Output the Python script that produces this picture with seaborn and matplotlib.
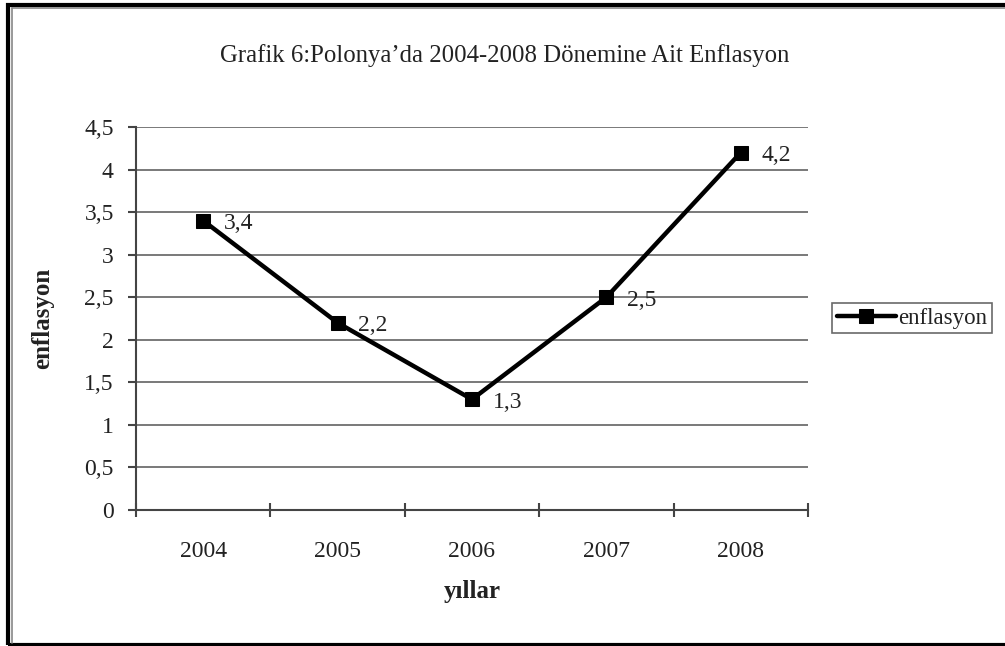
"""Polonya enflasyon 2004-2008 line chart, Excel-style."""
import matplotlib
matplotlib.use("Agg")
import matplotlib.pyplot as plt
import seaborn as sns
import pandas as pd
from matplotlib.patches import Rectangle
from matplotlib.lines import Line2D
from matplotlib.ticker import FuncFormatter, MultipleLocator

years = [2004, 2005, 2006, 2007, 2008]
enflasyon = [3.4, 2.2, 1.3, 2.5, 4.2]
title = "Grafik 6:Polonya\u2019da 2004-2008 Dönemine Ait Enflasyon"
series_name = "enflasyon"
x_label, y_label = "yıllar", "enflasyon"


def comma(v, _=None):
    return f"{v:g}".replace(".", ",")


def main():
    sns.set_theme(style="white")
    plt.rcParams["font.family"] = ["Liberation Serif", "DejaVu Serif"]
    data = pd.DataFrame({"year": years, series_name: enflasyon})

    fig = plt.figure(figsize=(10.05, 6.46), dpi=100)
    ax = fig.add_axes([0.1353, 0.2105, 0.6687, 0.5929])
    sns.lineplot(data=data, x="year", y=series_name, ax=ax, color="black", lw=3.2,
                 marker="s", markersize=10, markeredgecolor="black", label=series_name)
    for x, y in zip(data["year"], data[series_name]):
        ax.annotate(comma(y), (x, y), xytext=(15, -2), textcoords="offset points",
                    ha="left", va="center", fontsize=17, color="#222")

    ax.set_xlim(years[0] - 0.5, years[-1] + 0.5)
    ax.set_ylim(0, 4.5)
    ax.yaxis.set_major_locator(MultipleLocator(0.5))
    ax.yaxis.set_major_formatter(FuncFormatter(comma))
    ax.set_xticks(years)
    ax.set_xticklabels([str(y) for y in years])
    ax.set_xticks([y - 0.5 for y in years] + [years[-1] + 0.5], minor=True)
    ax.tick_params(bottom=True, left=True, which="both")
    ax.tick_params(axis="x", which="major", length=0, pad=22, labelsize=17, labelcolor="#222")
    ax.tick_params(axis="x", which="minor", direction="inout", length=10, width=1.5, color="#444")
    ax.tick_params(axis="y", which="major", direction="out", length=6, width=1.5, color="#444",
                   pad=10, labelsize=17, labelcolor="#222")
    ax.grid(axis="y", color="#555", lw=1.1)
    ax.set_axisbelow(True)
    for side in ("top", "right"):
        ax.spines[side].set_visible(False)
    for side in ("left", "bottom"):
        ax.spines[side].set_color("#444")
        ax.spines[side].set_linewidth(1.5)

    ax.set_xlabel(x_label, fontsize=18, fontweight="bold", color="#222", labelpad=13)
    ax.set_ylabel(y_label, fontsize=18, fontweight="bold", color="#222", labelpad=22)
    fig.text(0.5 * (0.1353 + 0.804) + 0.033, 1 - 56 / 646, title, ha="center", va="center",
             fontsize=17.8, color="#222")

    leg = ax.legend(loc="center left", bbox_to_anchor=(832 / 1005, 1 - 318 / 646),
                    bbox_transform=fig.transFigure, fontsize=16.5, frameon=True,
                    handlelength=2.6, handletextpad=0.1, borderpad=0.2, fancybox=False,
                    borderaxespad=0)
    leg.get_frame().set_edgecolor("#444")
    leg.get_frame().set_linewidth(1.2)
    for t in leg.get_texts():
        t.set_color("#222")

    # page frame, open on the right like the scan
    fig.add_artist(Rectangle((8 / 1005, 1.5 / 646), 1.2, 1 - 6 / 646, transform=fig.transFigure,
                             fill=False, ec="black", lw=3, clip_on=False))
    fig.add_artist(Line2D([11.5 / 1005] * 2, [3 / 646, 1 - 7.5 / 646], transform=fig.transFigure,
                          color="#888", lw=1.2))
    fig.add_artist(Line2D([11.5 / 1005, 1], [1 - 7.5 / 646] * 2, transform=fig.transFigure,
                          color="#888", lw=1.2))

    fig.savefig("out.png", dpi=100, facecolor="white")
    plt.close(fig)


if __name__ == "__main__":
    main()
